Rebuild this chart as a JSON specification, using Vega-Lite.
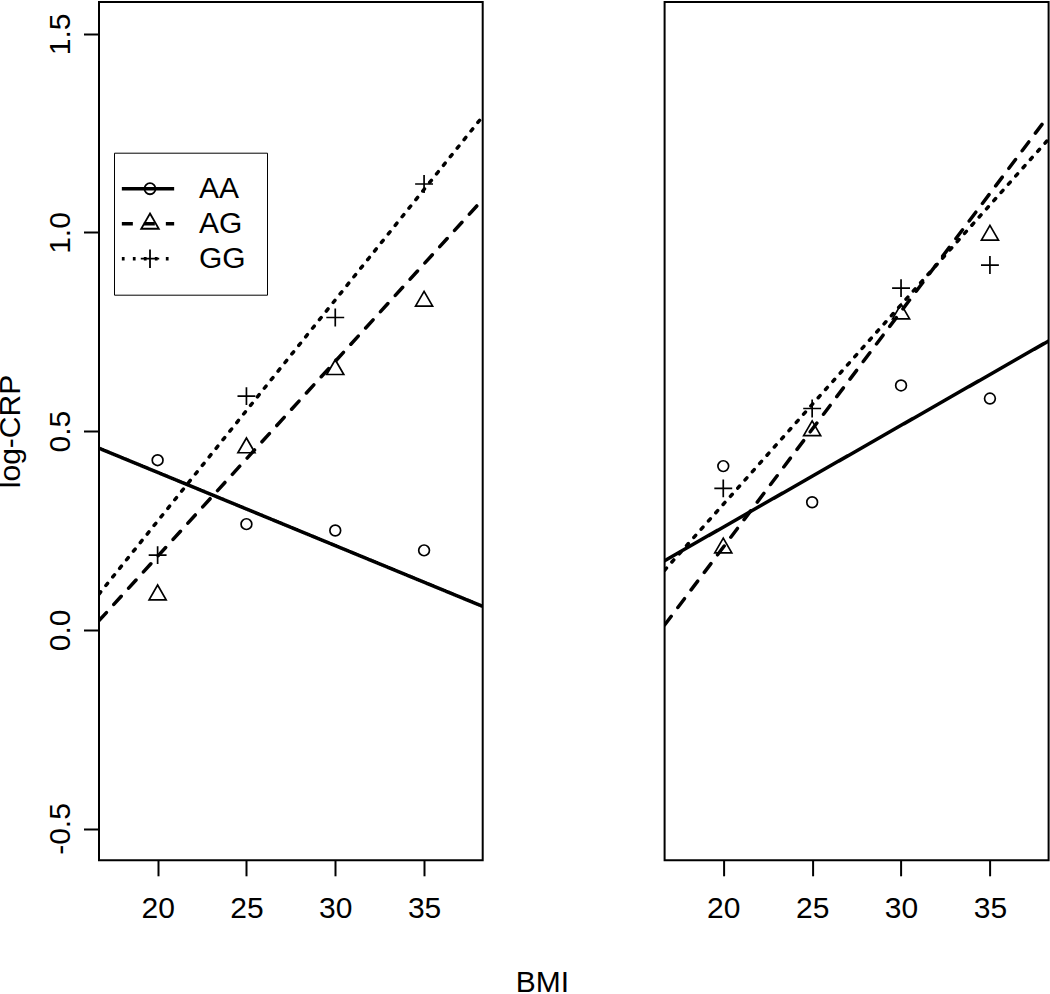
{
  "$schema": "https://vega.github.io/schema/vega-lite/v6.json",
  "background": "white",
  "padding": {"left": -6, "top": 1, "right": 0, "bottom": 0},
  "datasets": {
    "points": [
      {"panel": "left", "genotype": "AA", "bmi": 20, "crp": 0.427},
      {"panel": "left", "genotype": "AA", "bmi": 25, "crp": 0.266},
      {"panel": "left", "genotype": "AA", "bmi": 30, "crp": 0.250},
      {"panel": "left", "genotype": "AA", "bmi": 35, "crp": 0.200},
      {"panel": "left", "genotype": "AG", "bmi": 20, "crp": 0.088},
      {"panel": "left", "genotype": "AG", "bmi": 25, "crp": 0.458},
      {"panel": "left", "genotype": "AG", "bmi": 30, "crp": 0.655},
      {"panel": "left", "genotype": "AG", "bmi": 35, "crp": 0.827},
      {"panel": "left", "genotype": "GG", "bmi": 20, "crp": 0.188},
      {"panel": "left", "genotype": "GG", "bmi": 25, "crp": 0.588},
      {"panel": "left", "genotype": "GG", "bmi": 30, "crp": 0.786},
      {"panel": "left", "genotype": "GG", "bmi": 35, "crp": 1.122},
      {"panel": "right", "genotype": "AA", "bmi": 20, "crp": 0.412},
      {"panel": "right", "genotype": "AA", "bmi": 25, "crp": 0.321},
      {"panel": "right", "genotype": "AA", "bmi": 30, "crp": 0.615},
      {"panel": "right", "genotype": "AA", "bmi": 35, "crp": 0.582},
      {"panel": "right", "genotype": "AG", "bmi": 20, "crp": 0.206},
      {"panel": "right", "genotype": "AG", "bmi": 25, "crp": 0.501},
      {"panel": "right", "genotype": "AG", "bmi": 30, "crp": 0.795},
      {"panel": "right", "genotype": "AG", "bmi": 35, "crp": 0.993},
      {"panel": "right", "genotype": "GG", "bmi": 20, "crp": 0.356},
      {"panel": "right", "genotype": "GG", "bmi": 25, "crp": 0.557},
      {"panel": "right", "genotype": "GG", "bmi": 30, "crp": 0.860},
      {"panel": "right", "genotype": "GG", "bmi": 35, "crp": 0.918}
    ],
    "lines": [
      {"panel": "left", "genotype": "AA", "bmi": 16.7, "crp": 0.457},
      {"panel": "left", "genotype": "AA", "bmi": 38.3, "crp": 0.059},
      {"panel": "left", "genotype": "AG", "bmi": 16.7, "crp": 0.023},
      {"panel": "left", "genotype": "AG", "bmi": 38.3, "crp": 1.083},
      {"panel": "left", "genotype": "GG", "bmi": 16.7, "crp": 0.090},
      {"panel": "left", "genotype": "GG", "bmi": 38.3, "crp": 1.292},
      {"panel": "right", "genotype": "AA", "bmi": 16.7, "crp": 0.174},
      {"panel": "right", "genotype": "AA", "bmi": 38.3, "crp": 0.727},
      {"panel": "right", "genotype": "AG", "bmi": 16.7, "crp": 0.012},
      {"panel": "right", "genotype": "AG", "bmi": 38.3, "crp": 1.294},
      {"panel": "right", "genotype": "GG", "bmi": 16.7, "crp": 0.150},
      {"panel": "right", "genotype": "GG", "bmi": 38.3, "crp": 1.235}
    ]
  },
  "config": {
    "font": "Liberation Sans",
    "view": {"stroke": "black", "strokeWidth": 2},
    "axis": {
      "domain": false, "grid": false,
      "tickColor": "black", "tickWidth": 2, "tickSize": 15.5,
      "labelFont": "Liberation Sans", "labelFontSize": 30, "labelColor": "black", "labelFlush": false,
      "titleFont": "Liberation Sans", "titleFontSize": 30, "titleColor": "black", "titleFontWeight": "normal"
    },
    "legend": {"labelFont": "Liberation Sans", "labelFontSize": 30, "labelColor": "black"}
  },
  "bounds": "flush",
  "spacing": 181.6,
  "resolve": {
    "scale": {"shape": "independent", "strokeDash": "independent"},
    "legend": {"shape": "independent", "strokeDash": "independent"}
  },
  "hconcat": [
    {
      "width": 383.7,
      "height": 858.3,
      "layer": [
        {
          "data": {"name": "lines"},
          "transform": [{"filter": "datum.panel === 'left'"}],
          "mark": {"type": "line", "clip": true, "strokeWidth": 3.5, "strokeCap": "round", "color": "black"},
          "encoding": {
            "x": {
              "field": "bmi", "type": "quantitative",
              "scale": {"domain": [16.7, 38.3], "nice": false, "zero": false},
              "axis": {
                "values": [20, 25, 30, 35],
                "labelBaseline": "alphabetic", "labelPadding": 42,
                "title": "BMI", "titleX": 443, "titleY": 131.5,
                "titleAlign": "center", "titleBaseline": "alphabetic"
              }
            },
            "y": {
              "field": "crp", "type": "quantitative",
              "scale": {"domain": [-0.58, 1.58], "nice": false, "zero": false},
              "axis": {
                "values": [-0.5, 0, 0.5, 1, 1.5],
                "labelExpr": "replace(format(datum.value, '.1f'), '−', '-')",
                "labelAngle": -90, "labelAlign": "center", "labelBaseline": "alphabetic", "labelPadding": 14,
                "title": "log-CRP", "titleX": -80, "titleY": 429,
                "titleAngle": -90, "titleAlign": "center", "titleBaseline": "alphabetic"
              }
            },
            "strokeDash": {
              "field": "genotype", "type": "nominal",
              "scale": {"range": [[1, 0], [11, 11], [2.75, 8.25]]},
              "legend": {
                "orient": "none", "legendX": 13, "legendY": 150.7, "title": null,
                "symbolType": "M-4.36,0L4.36,0", "symbolSize": 144,
                "symbolStrokeWidth": 3.5, "symbolStrokeColor": "black", "symbolOffset": 0,
                "labelOpacity": 0, "labelOffset": 34, "padding": 21, "rowPadding": 5
              }
            }
          }
        },
        {
          "data": {"name": "points"},
          "transform": [{"filter": "datum.panel === 'left'"}],
          "mark": {"type": "point", "filled": false, "strokeWidth": 1.7, "color": "black", "size": 160, "opacity": 1},
          "encoding": {
            "x": {"field": "bmi", "type": "quantitative"},
            "y": {"field": "crp", "type": "quantitative"},
            "shape": {
              "field": "genotype", "type": "nominal",
              "scale": {"range": [
                "M0.85,0A0.85,0.85,0,1,1,-0.85,0A0.85,0.85,0,1,1,0.85,0Z",
                "M0,-1.555L1.347,0.778L-1.347,0.778Z",
                "M-1.414,0L1.414,0M0,-1.414L0,1.414"
              ]},
              "legend": {
                "orient": "none", "legendX": 15, "legendY": 150.7, "title": null,
                "symbolSize": 170, "symbolStrokeWidth": 1.8, "symbolStrokeColor": "black",
                "symbolFillColor": "transparent", "symbolOffset": 0,
                "labelOffset": 34, "padding": 21, "rowPadding": 5,
                "strokeColor": "black",
                "encode": {
                  "legend": {"update": {"strokeWidth": {"value": 2}}},
                  "labels": {"update": {"dy": {"value": 3}}}
                }
              }
            }
          }
        }
      ]
    },
    {
      "width": 384,
      "height": 858.3,
      "layer": [
        {
          "data": {"name": "lines"},
          "transform": [{"filter": "datum.panel === 'right'"}],
          "mark": {"type": "line", "clip": true, "strokeWidth": 3.5, "strokeCap": "round", "color": "black"},
          "encoding": {
            "x": {
              "field": "bmi", "type": "quantitative",
              "scale": {"domain": [16.7, 38.3], "nice": false, "zero": false},
              "axis": {"values": [20, 25, 30, 35], "labelBaseline": "alphabetic", "labelPadding": 42, "title": null}
            },
            "y": {
              "field": "crp", "type": "quantitative",
              "scale": {"domain": [-0.58, 1.58], "nice": false, "zero": false},
              "axis": null
            },
            "strokeDash": {
              "field": "genotype", "type": "nominal",
              "scale": {"range": [[1, 0], [11, 11], [2.75, 8.25]]},
              "legend": null
            }
          }
        },
        {
          "data": {"name": "points"},
          "transform": [{"filter": "datum.panel === 'right'"}],
          "mark": {"type": "point", "filled": false, "strokeWidth": 1.7, "color": "black", "size": 160, "opacity": 1},
          "encoding": {
            "x": {"field": "bmi", "type": "quantitative"},
            "y": {"field": "crp", "type": "quantitative"},
            "shape": {
              "field": "genotype", "type": "nominal",
              "scale": {"range": [
                "M0.85,0A0.85,0.85,0,1,1,-0.85,0A0.85,0.85,0,1,1,0.85,0Z",
                "M0,-1.555L1.347,0.778L-1.347,0.778Z",
                "M-1.414,0L1.414,0M0,-1.414L0,1.414"
              ]},
              "legend": null
            }
          }
        }
      ]
    }
  ]
}
